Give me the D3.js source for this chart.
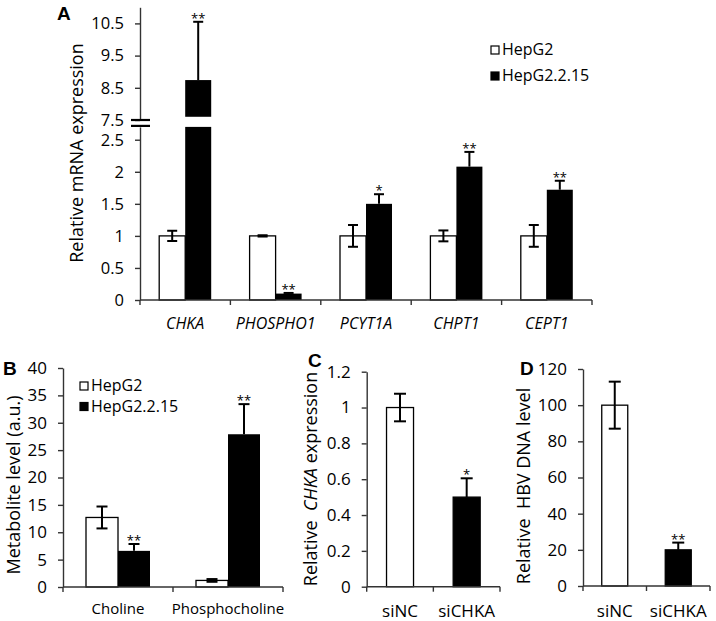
<!DOCTYPE html>
<html><head><meta charset="utf-8">
<script src="https://cdn.jsdelivr.net/npm/d3@7"></script>
<style>
body{margin:0;background:#fff}
svg{display:block}
text{font-family:"Open Sans",sans-serif;fill:#000}
</style>
</head><body>
<svg id="chart" width="716" height="621"></svg>
<script>
// ---------- DATA ----------
// Panel A
const genesA = ["CHKA", "PHOSPHO1", "PCYT1A", "CHPT1", "CEPT1"];
const hepg2A = [1.0, 1.0, 1.0, 1.0, 1.0];
const hepg2ErrA = [0.08, 0.01, 0.17, 0.085, 0.17];
const hepg215A = [8.74, 0.1, 1.50, 2.08, 1.72];
const hepg215ErrA = [1.81, 0.01, 0.15, 0.23, 0.14];
const sigA = ["**", "**", "*", "**", "**"];
const ticksALower = [0, 0.5, 1, 1.5, 2, 2.5];
const ticksAUpper = [7.5, 8.5, 9.5, 10.5];
const breakLowerMax = 2.7, breakUpperMin = 7.6;
// Panel B
const metabolitesB = ["Choline", "Phosphocholine"];
const hepg2B = [12.7, 1.2];
const hepg2ErrB = [2.0, 0.25];
const hepg215B = [6.6, 27.9];
const hepg215ErrB = [1.25, 5.5];
const sigB = ["**", "**"];
const ticksB = [0, 5, 10, 15, 20, 25, 30, 35, 40];
// Panel C
const groupsC = ["siNC", "siCHKA"];
const valuesC = [1.0, 0.5];
const errC = [0.077, 0.105];
const sigC = ["", "*"];
const ticksC = [0, 0.2, 0.4, 0.6, 0.8, 1, 1.2];
// Panel D
const groupsD = ["siNC", "siCHKA"];
const valuesD = [100, 20];
const errD = [13, 4];
const sigD = ["", "**"];
const ticksD = [0, 20, 40, 60, 80, 100, 120];
const legendLabels = ["HepG2", "HepG2.2.15"];

// ---------- HELPERS ----------
const svg = d3.select("#chart");
const AX = "#333";
const fmt = d3.format("~g");

function yAxis(g, scale, ticks, fs) {
  const ax = d3.axisLeft(scale).tickValues(ticks).tickSize(5).tickPadding(11)
    .tickSizeOuter(0).tickFormat(fmt);
  g.call(ax);
  g.attr("font-family", null).attr("font-size", null);
  g.selectAll("path.domain").attr("stroke", AX).attr("stroke-width", 1.4);
  g.selectAll(".tick line").attr("stroke", AX).attr("stroke-width", 1.4);
  g.selectAll(".tick text").style("font-size", fs + "px").attr("fill", "#000");
}

function xBase(g, band, y0) {
  const [r0, r1] = band.range();
  g.append("line").attr("x1", r0).attr("x2", r1).attr("y1", y0).attr("y2", y0)
    .attr("stroke", AX).attr("stroke-width", 1.4);
  const n = band.domain().length;
  for (let i = 0; i <= n; i++) {
    const xx = r0 + i * band.step();
    g.append("line").attr("x1", xx).attr("x2", xx).attr("y1", y0).attr("y2", y0 + 5)
      .attr("stroke", AX).attr("stroke-width", 1.4);
  }
}

function xLabels(g, band, cats, yb, fs, italic) {
  g.selectAll(null).data(cats).enter().append("text")
    .attr("x", d => band(d) + band.bandwidth() / 2)
    .attr("y", yb).attr("text-anchor", "middle")
    .style("font-size", fs + "px").style("font-style", italic ? "italic" : "normal")
    .text(d => d);
}

function errorBar(g, cx, yTop, yBot, capW, yVal, twoSided) {
  const y1 = twoSided ? yBot : yVal;
  g.append("line").attr("x1", cx).attr("x2", cx).attr("y1", y1).attr("y2", yTop)
    .attr("stroke", "#000").attr("stroke-width", 2);
  g.append("line").attr("x1", cx - capW / 2).attr("x2", cx + capW / 2).attr("y1", yTop).attr("y2", yTop)
    .attr("stroke", "#000").attr("stroke-width", 2);
  if (twoSided) {
    g.append("line").attr("x1", cx - capW / 2).attr("x2", cx + capW / 2).attr("y1", yBot).attr("y2", yBot)
      .attr("stroke", "#000").attr("stroke-width", 2);
  }
}

function sigText(g, cx, yTop, s) {
  if (!s) return;
  g.append("text").attr("x", cx).attr("y", yTop + 1).attr("text-anchor", "middle")
    .style("font-size", "13px").text(s);
}

function yLabel(g, x, cy, parts, fs) {
  const t = g.append("text").attr("transform", `translate(${x},${cy}) rotate(-90)`)
    .attr("text-anchor", "middle").style("font-size", fs + "px").style("white-space", "pre");
  parts.forEach(p => t.append("tspan").style("font-style", p.i ? "italic" : "normal").text(p.t));
}

function panelLetter(g, x, y, s) {
  g.append("text").attr("x", x).attr("y", y)
    .style("font-family", "'Liberation Sans', Arial, sans-serif").style("font-weight", "bold")
    .style("font-size", "19px").text(s);
}

function legend(g, x, y0, dy, fs, sq) {
  legendLabels.forEach((l, i) => {
    const yb = y0 + i * dy;
    g.append("rect").attr("x", x).attr("y", yb - sq - 1).attr("width", sq).attr("height", sq)
      .attr("fill", i === 0 ? "#fff" : "#000").attr("stroke", "#000").attr("stroke-width", 1.2);
    g.append("text").attr("x", x + sq + 3).attr("y", yb).style("font-size", fs + "px").text(l);
  });
}

// ---------- PANEL A ----------
(function () {
  const g = svg.append("g");
  const axX = 140;
  const xA = d3.scaleBand().domain(genesA).range([axX, 592]);
  const yL = d3.scaleLinear().domain([0, breakLowerMax]).range([300, 126.9]);
  const yU = d3.scaleLinear().domain([7.5, 11]).range([120, 7.3]);
  const yA = v => v <= breakLowerMax ? yL(v) : yU(v);
  const bw = 26;

  genesA.forEach((gene, i) => {
    const c = xA(gene) + xA.bandwidth() / 2;
    g.append("rect").attr("x", c - bw).attr("width", bw)
      .attr("y", yA(hepg2A[i])).attr("height", yL(0) - yA(hepg2A[i]))
      .attr("fill", "#fff").attr("stroke", "#000").attr("stroke-width", 1.3);
    const v = hepg215A[i];
    if (v > breakLowerMax) {
      g.append("rect").attr("x", c).attr("width", bw)
        .attr("y", yL(breakLowerMax)).attr("height", yL(0) - yL(breakLowerMax)).attr("fill", "#000");
      g.append("rect").attr("x", c).attr("width", bw)
        .attr("y", yU(v)).attr("height", yU(breakUpperMin) - yU(v)).attr("fill", "#000");
    } else {
      g.append("rect").attr("x", c).attr("width", bw)
        .attr("y", yL(v)).attr("height", yL(0) - yL(v)).attr("fill", "#000");
    }
  });
  genesA.forEach((gene, i) => {
    const c = xA(gene) + xA.bandwidth() / 2;
    const cw = c - bw / 2, cb = c + bw / 2;
    errorBar(g, cw, yA(hepg2A[i] + hepg2ErrA[i]), yA(hepg2A[i] - hepg2ErrA[i]), 10, yA(hepg2A[i]), true);
    const v = hepg215A[i], e = hepg215ErrA[i];
    errorBar(g, cb, yA(v + e), null, 10, yA(v), false);
    sigText(g, cb, yA(v + e), sigA[i]);
  });

  yAxis(g.append("g").attr("transform", `translate(${axX},0)`), yL, ticksALower, 16.5);
  yAxis(g.append("g").attr("transform", `translate(${axX},0)`), yU, ticksAUpper, 16.5);
  [yU(7.5), yL(breakLowerMax) - 1].forEach(yy => {
    g.append("line").attr("x1", axX - 9).attr("x2", axX + 10).attr("y1", yy).attr("y2", yy)
      .attr("stroke", "#000").attr("stroke-width", 2.2);
  });
  xBase(g, xA, yL(0));
  xLabels(g, xA, genesA, 329, 16, true);
  yLabel(g, 83, 153, [{t: "Relative mRNA expression"}], 18);
  panelLetter(g, 57, 20, "A");
  legend(g, 491, 55, 26, 16, 8);
})();

// ---------- PANEL B ----------
(function () {
  const g = svg.append("g");
  const axX = 63;
  const xB = d3.scaleBand().domain(metabolitesB).range([axX, 283]);
  const yB = d3.scaleLinear().domain([0, 40]).range([587, 368]);
  const bw = 32;
  metabolitesB.forEach((m, i) => {
    const c = xB(m) + xB.bandwidth() / 2;
    g.append("rect").attr("x", c - bw).attr("width", bw).attr("y", yB(hepg2B[i]))
      .attr("height", yB(0) - yB(hepg2B[i])).attr("fill", "#fff").attr("stroke", "#000").attr("stroke-width", 1.3);
    g.append("rect").attr("x", c).attr("width", bw).attr("y", yB(hepg215B[i]))
      .attr("height", yB(0) - yB(hepg215B[i])).attr("fill", "#000");
  });
  metabolitesB.forEach((m, i) => {
    const c = xB(m) + xB.bandwidth() / 2;
    errorBar(g, c - bw / 2, yB(hepg2B[i] + hepg2ErrB[i]), yB(hepg2B[i] - hepg2ErrB[i]), 11, yB(hepg2B[i]), true);
    errorBar(g, c + bw / 2, yB(hepg215B[i] + hepg215ErrB[i]), null, 11, yB(hepg215B[i]), false);
    sigText(g, c + bw / 2, yB(hepg215B[i] + hepg215ErrB[i]), sigB[i]);
  });
  yAxis(g.append("g").attr("transform", `translate(${axX},0)`), yB, ticksB, 17);
  xBase(g, xB, yB(0));
  xLabels(g, xB, metabolitesB, 614, 15, false);
  yLabel(g, 20, 485, [{t: "Metabolite level (a.u.)"}], 18);
  panelLetter(g, 3, 375, "B");
  legend(g, 80, 391, 20.5, 16, 8);
})();

// ---------- PANEL C ----------
(function () {
  const g = svg.append("g");
  const axX = 366.7;
  const xC = d3.scaleBand().domain(groupsC).range([axX, 500]);
  const yC = d3.scaleLinear().domain([0, 1.2]).range([586.7, 371.7]);
  const bw = 27;
  groupsC.forEach((m, i) => {
    const c = xC(m) + xC.bandwidth() / 2;
    g.append("rect").attr("x", c - bw / 2).attr("width", bw).attr("y", yC(valuesC[i]))
      .attr("height", yC(0) - yC(valuesC[i]))
      .attr("fill", i === 0 ? "#fff" : "#000").attr("stroke", "#000").attr("stroke-width", 1.3);
    errorBar(g, c, yC(valuesC[i] + errC[i]), yC(valuesC[i] - errC[i]), 12, yC(valuesC[i]), i === 0);
    sigText(g, c, yC(valuesC[i] + errC[i]), sigC[i]);
  });
  yAxis(g.append("g").attr("transform", `translate(${axX},0)`), yC, ticksC, 17);
  xBase(g, xC, yC(0));
  xLabels(g, xC, groupsC, 617, 17, false);
  yLabel(g, 317, 479, [{t: "Relative  "}, {t: "CHKA", i: true}, {t: " expression"}], 18);
  panelLetter(g, 308, 367, "C");
})();

// ---------- PANEL D ----------
(function () {
  const g = svg.append("g");
  const axX = 583;
  const xD = d3.scaleBand().domain(groupsD).range([axX, 710]);
  const yD = d3.scaleLinear().domain([0, 120]).range([586, 369]);
  const bw = 26;
  groupsD.forEach((m, i) => {
    const c = xD(m) + xD.bandwidth() / 2;
    g.append("rect").attr("x", c - bw / 2).attr("width", bw).attr("y", yD(valuesD[i]))
      .attr("height", yD(0) - yD(valuesD[i]))
      .attr("fill", i === 0 ? "#fff" : "#000").attr("stroke", "#000").attr("stroke-width", 1.3);
    errorBar(g, c, yD(valuesD[i] + errD[i]), yD(valuesD[i] - errD[i]), 12, yD(valuesD[i]), i === 0);
    sigText(g, c, yD(valuesD[i] + errD[i]), sigD[i]);
  });
  yAxis(g.append("g").attr("transform", `translate(${axX},0)`), yD, ticksD, 17);
  xBase(g, xD, yD(0));
  xLabels(g, xD, groupsD, 617, 17, false);
  yLabel(g, 530, 486, [{t: "Relative  HBV DNA level"}], 18);
  panelLetter(g, 520, 375, "D");
})();
</script>
</body></html>
